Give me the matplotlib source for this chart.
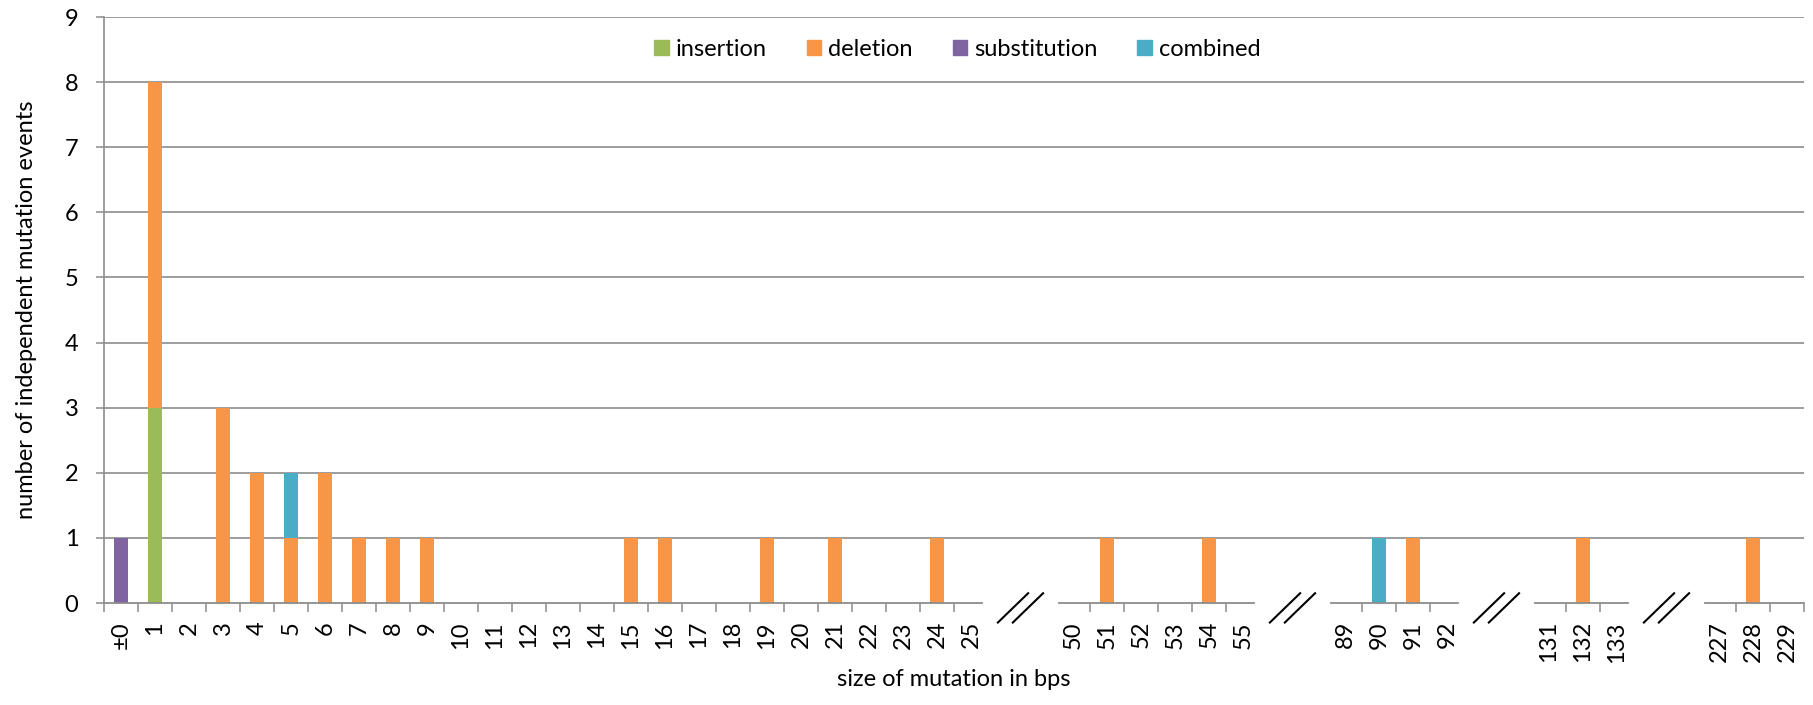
import numpy as np
import matplotlib
matplotlib.use('Agg')
import matplotlib.pyplot as plt
from matplotlib.patches import Patch

plt.rcParams['font.family'] = ['Lato', 'DejaVu Sans']

# categories on the x axis, '' = gap for an axis break
categories = ['±0', '1', '2', '3', '4', '5', '6', '7', '8', '9', '10', '11', '12',
              '13', '14', '15', '16', '17', '18', '19', '20', '21', '22', '23', '24', '25',
              '', '',
              '50', '51', '52', '53', '54', '55',
              '', '',
              '89', '90', '91', '92',
              '', '',
              '131', '132', '133',
              '', '',
              '227', '228', '229']

#             ±0 1  2  3  4  5  6  7  8  9  10 11 12 13 14 15 16 17 18 19 20 21 22 23 24 25 -  -  50 51 52 53 54 55 -  -  89 90 91 92 -  -  131 132 133 - - 227 228 229
insertion =    [0, 3, 0, 0, 0, 0, 0, 0, 0, 0, 0, 0, 0, 0, 0, 0, 0, 0, 0, 0, 0, 0, 0, 0, 0, 0, 0, 0, 0, 0, 0, 0, 0, 0, 0, 0, 0, 0, 0, 0, 0, 0, 0, 0, 0, 0, 0, 0, 0, 0]
deletion =     [0, 5, 0, 3, 2, 1, 2, 1, 1, 1, 0, 0, 0, 0, 0, 1, 1, 0, 0, 1, 0, 1, 0, 0, 1, 0, 0, 0, 0, 1, 0, 0, 1, 0, 0, 0, 0, 0, 1, 0, 0, 0, 0, 1, 0, 0, 0, 0, 1, 0]
substitution = [1, 0, 0, 0, 0, 0, 0, 0, 0, 0, 0, 0, 0, 0, 0, 0, 0, 0, 0, 0, 0, 0, 0, 0, 0, 0, 0, 0, 0, 0, 0, 0, 0, 0, 0, 0, 0, 0, 0, 0, 0, 0, 0, 0, 0, 0, 0, 0, 0, 0]
combined =     [0, 0, 0, 0, 0, 1, 0, 0, 0, 0, 0, 0, 0, 0, 0, 0, 0, 0, 0, 0, 0, 0, 0, 0, 0, 0, 0, 0, 0, 0, 0, 0, 0, 0, 0, 0, 0, 1, 0, 0, 0, 0, 0, 0, 0, 0, 0, 0, 0, 0]

series = [('insertion', insertion, '#9BBB59'),
          ('deletion', deletion, '#F79646'),
          ('substitution', substitution, '#8064A2'),
          ('combined', combined, '#4BACC6')]

gray = '#8c8c8c'
fs = 17
n = len(categories)
x = np.arange(n) + 0.5

fig = plt.figure(figsize=(18.13, 7.05), dpi=100)
ax = fig.add_axes([104 / 1813, 1 - 603 / 705, 1700 / 1813, 586 / 705])

bottom = np.zeros(n)
for name, vals, col in series:
    vals = np.array(vals, dtype=float)
    ax.bar(x, vals, width=0.41, bottom=bottom, color=col, zorder=3)
    bottom += vals

ax.set_xlim(0, n)
ax.set_ylim(0, 9)

# gridlines (not at 0, the axis is drawn in pieces there)
for yv in range(1, 10):
    ax.axhline(yv, color=gray, lw=1.2, zorder=1)

for s in ['top', 'right', 'bottom']:
    ax.spines[s].set_visible(False)
ax.spines['left'].set_color(gray)
ax.spines['left'].set_linewidth(1.2)

# y axis
ax.set_yticks(range(0, 10))
ax.tick_params(axis='y', length=6, width=1.1, color=gray, pad=12.5, labelsize=fs)

# x axis: pieces of axis line between breaks
blank = [c == '' for c in categories]
seg_start = None
for i in range(n + 1):
    inside = i < n and not blank[i]
    if inside and seg_start is None:
        seg_start = i
    elif not inside and seg_start is not None:
        a = seg_start + (0.09 if seg_start > 0 else 0)
        b = i - (0.18 if i < n else 0)
        ax.plot([a, b], [0, 0], color=gray, lw=1.3, clip_on=False, zorder=4)
        seg_start = None

# break marks "//" in the middle of each gap
for i in range(1, n):
    if blank[i - 1] and blank[i]:
        for off in (0.0, 0.44):
            ax.plot([i - 0.71 + off, i + 0.18 + off], [-0.30, 0.15],
                    color='black', lw=1.5, clip_on=False, zorder=5)

# ticks at category boundaries inside segments
bounds = []
for i in range(n + 1):
    left_ok = i == 0 or not blank[i - 1]
    right_ok = i == n or not blank[i]
    if left_ok and right_ok:
        bounds.append(i)
ax.set_xticks(bounds)
ax.set_xticklabels([])
ax.tick_params(axis='x', which='major', length=6.5, width=1.1, color=gray)
ax.set_xticks(x, minor=True)
ax.set_xticklabels(categories, minor=True, rotation=90, va='top', ha='center')
ax.tick_params(axis='x', which='minor', length=0, pad=13, labelsize=fs)

ax.set_xlabel('size of mutation in bps', fontsize=fs, labelpad=5)
ax.set_ylabel('number of independent mutation events', fontsize=fs, labelpad=20)

handles = [Patch(color=col, label=name) for name, _, col in series]
ax.legend(handles=handles, loc='center', bbox_to_anchor=(0.502, 0.945), ncol=4,
          frameon=False, fontsize=fs, handlelength=0.62, handleheight=0.62,
          handletextpad=0.28, columnspacing=1.7, borderaxespad=0)

fig.savefig('out.png', dpi=100)
